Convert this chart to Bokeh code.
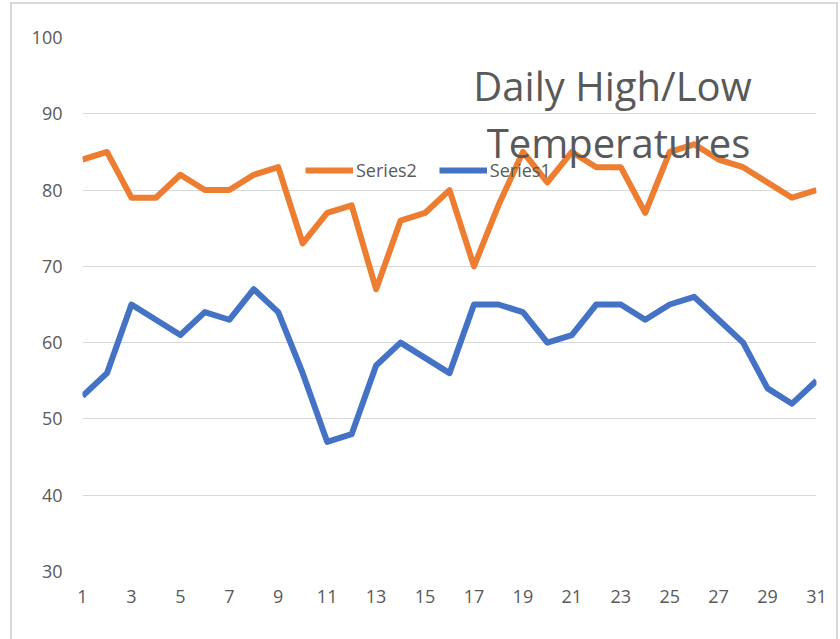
from bokeh.plotting import figure
from bokeh.models import ColumnDataSource, Range1d, FixedTicker, Label, Legend, LegendItem
from bokeh.embed import file_html
from bokeh.resources import INLINE

days = list(range(1, 32))
series2 = [84, 85, 79, 79, 82, 80, 80, 82, 83, 73, 77, 78, 67, 76, 77, 80,
           70, 78, 85, 81, 85, 83, 83, 77, 85, 86, 84, 83, 81, 79, 80]
series1 = [53, 56, 65, 63, 61, 64, 63, 67, 64, 56, 47, 48, 57, 60, 58, 56,
           65, 65, 64, 60, 61, 65, 65, 63, 65, 66, 63, 60, 54, 52, 55]
x_ticks = list(range(1, 32, 2))
y_ticks = list(range(30, 101, 10))
title_lines = ["Daily High/Low", "Temperatures"]

FONT = "Open Sans"
GRAY = "#595959"
BORDER = "#d9d9d9"

src = ColumnDataSource(data=dict(day=days, s1=series1, s2=series2))

p = figure(frame_width=734, frame_height=534,
           min_border_left=82, min_border_right=24,
           min_border_top=37, min_border_bottom=68,
           x_range=Range1d(1, 31), y_range=Range1d(30, 100),
           output_backend="svg", toolbar_location=None)

p.outline_line_color = None
p.background_fill_color = "white"
p.border_fill_color = None
p.styles = {
    "background-color": "white",
    "box-shadow": ("inset 10px 0 0 0 white, inset 0 2px 0 0 white, inset -2px 0 0 0 white, "
                   f"inset 12px 0 0 0 {BORDER}, inset 0 4px 0 0 {BORDER}, inset -4px 0 0 0 {BORDER}"),
}

for ax in (p.xaxis[0], p.yaxis[0]):
    ax.axis_line_color = None
    ax.major_tick_line_color = None
    ax.minor_tick_line_color = None
    ax.major_label_text_font = FONT
    ax.major_label_text_font_size = "18px"
    ax.major_label_text_color = GRAY

p.xaxis[0].ticker = FixedTicker(ticks=x_ticks)
p.yaxis[0].ticker = FixedTicker(ticks=y_ticks)
p.xaxis[0].major_label_standoff = 12
p.yaxis[0].major_label_standoff = 14

p.xgrid.grid_line_color = None
p.ygrid.ticker = FixedTicker(ticks=y_ticks)
p.ygrid.grid_line_color = BORDER
p.ygrid.grid_line_width = 1

r2 = p.line("day", "s2", source=src, line_color="#ED7D31", line_width=6, line_join="round")
r1 = p.line("day", "s1", source=src, line_color="#4472C4", line_width=6, line_join="round")

legend = Legend(items=[LegendItem(label="Series2", renderers=[r2]),
                       LegendItem(label="Series1", renderers=[r1])],
                orientation="horizontal", location=(223, 389),
                padding=0, margin=0, spacing=22,
                glyph_width=48, glyph_height=20, label_standoff=3,
                label_text_font=FONT, label_text_font_size="18px",
                label_text_color=GRAY,
                background_fill_alpha=0, border_line_alpha=0)
p.add_layout(legend, "center")

p.add_layout(Label(x=530, y=486, x_units="screen", y_units="screen", text=title_lines[0],
                   text_align="center", text_baseline="alphabetic",
                   text_font=FONT, text_font_size="40px", text_color=GRAY))
p.add_layout(Label(x=536, y=429, x_units="screen", y_units="screen", text=title_lines[1],
                   text_align="center", text_baseline="alphabetic",
                   text_font=FONT, text_font_size="40px", text_color=GRAY))

open("out.html", "w").write(file_html(p, INLINE))
